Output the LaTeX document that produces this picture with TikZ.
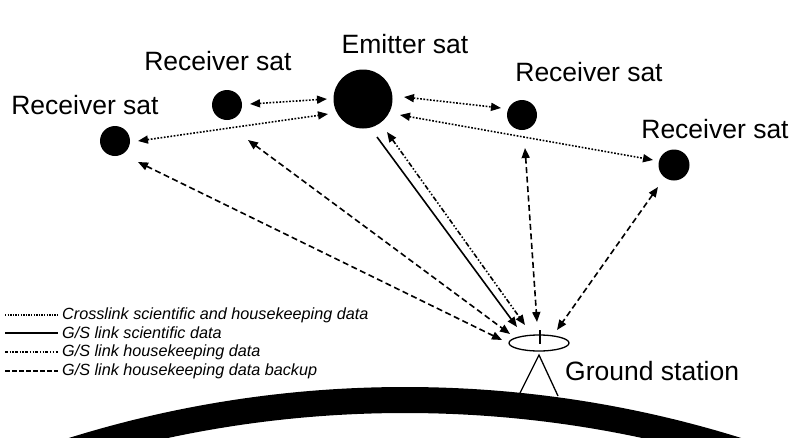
\documentclass[tikz,border=0pt]{standalone}
\usepackage{fontspec}
\setmainfont{Liberation Sans}
\usetikzlibrary{arrows.meta,shapes.geometric}
\begin{document}
\begin{tikzpicture}[x=1pt,y=-1pt,
  sat/.style={circle,fill=black,inner sep=0pt},
  lbl/.style={font=\fontsize{26.5}{30}\selectfont,inner sep=0pt},
  leg/.style={font=\fontsize{16.2}{18}\selectfont\itshape,inner xsep=4pt,inner ysep=0pt,anchor=west},
  tip/.tip={Triangle[length=10pt,width=8pt]},
  link/.style={line width=1.6pt,tip-tip},
  xlink/.style={link,dash pattern=on 1.7pt off 1.6pt},
  bkp/.style={link,dash pattern=on 6pt off 3.5pt},
  hk/.style={link,dash pattern=on 5pt off 2pt on 1.5pt off 2pt on 1.5pt off 2pt},
  sci/.style={line width=1.6pt,-tip},
  xlinkl/.style={line width=1.4pt,dash pattern=on 1.3pt off 1.3pt},
  bkpl/.style={line width=1.4pt,dash pattern=on 4.5pt off 2.5pt},
  hkl/.style={line width=1.4pt,dash pattern=on 3pt off 1.5pt on 1.3pt off 1.5pt on 1.3pt off 1.5pt},
  scil/.style={line width=1.4pt}
]
\useasboundingbox (0,0) rectangle (800,437);
% Earth
\begin{scope}
  \clip (0,0) rectangle (800,437);
  \fill[even odd rule] (405,1514) circle[radius=1127pt] (405,1540) circle[radius=1127pt];
\end{scope}
% satellites
\node[sat,minimum size=30pt] (s1) at (115,141) {};
\node[sat,minimum size=30pt] (s2) at (227,105) {};
\node[sat,minimum size=59pt] (em) at (363,99) {};
\node[sat,minimum size=30pt] (s3) at (522,115) {};
\node[sat,minimum size=31pt] (s4) at (674,165) {};
\node[lbl] (ls1) at (85,105) {Receiver sat};
\node[lbl] (ls2) at (218,61) {Receiver sat};
\node[lbl] (lem) at (405,44) {Emitter sat};
\node[lbl] (ls3) at (589,72) {Receiver sat};
\node[lbl] (ls4) at (715,129) {Receiver sat};
% ground station
\node[draw,ellipse,line width=1.3pt,minimum width=60pt,minimum height=16pt,inner sep=0pt] (gs) at (539,343) {};
\coordinate (tkt) at (540,330);
\coordinate (tkb) at (540,344);
\draw[line width=1.3pt] (tkt) -- (tkb);
\coordinate (apex) at (539,355);
\coordinate (legl) at (520,393);
\coordinate (legr) at (558,396);
\draw[line width=1.3pt] (legl) -- (apex) -- (legr);
\node[lbl,anchor=west] (lgs) at (565,371) {Ground station};
% link end points
\coordinate (a1) at (250,104); \coordinate (a2) at (327,99);
\coordinate (b1) at (138,141); \coordinate (b2) at (328,114);
\coordinate (c1) at (404,97);  \coordinate (c2) at (501,108);
\coordinate (d1) at (400,115); \coordinate (d2) at (653,160);
\coordinate (e1) at (138,162); \coordinate (e2) at (502,340);
\coordinate (f1) at (248,140); \coordinate (f2) at (510,334);
\coordinate (g1) at (377,137); \coordinate (g2) at (517,327);
\coordinate (h1) at (387,132); \coordinate (h2) at (525,325);
\coordinate (i1) at (525,148); \coordinate (i2) at (537,322);
\coordinate (j1) at (658,187); \coordinate (j2) at (557,330);
% crosslinks
\draw[xlink] (a1) -- (a2);
\draw[xlink] (b1) -- (b2);
\draw[xlink] (c1) -- (c2);
\draw[xlink] (d1) -- (d2);
% ground links
\draw[bkp] (e1) -- (e2);
\draw[bkp] (f1) -- (f2);
\draw[sci] (g1) -- (g2);
\draw[hk] (h1) -- (h2);
\draw[bkp] (i1) -- (i2);
\draw[bkp] (j1) -- (j2);
% legend
\node[leg] (l1) at (58,315) {Crosslink scientific and housekeeping data};
\node[leg] (l2) at (58,333) {G/S link scientific data};
\node[leg] (l3) at (58,352) {G/S link housekeeping data};
\node[leg] (l4) at (58,371) {G/S link housekeeping data backup};
\coordinate (k1) at (5,315); \coordinate (k2) at (5,333);
\coordinate (k3) at (5,352); \coordinate (k4) at (5,371);
\draw[xlinkl] (k1) -- (l1.west);
\draw[scil] (k2) -- (l2.west);
\draw[hkl] (k3) -- (l3.west);
\draw[bkpl] (k4) -- (l4.west);
\end{tikzpicture}
\end{document}
